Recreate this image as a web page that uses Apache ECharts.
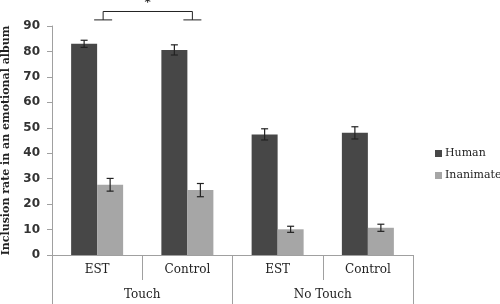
<!DOCTYPE html>
<html>
<head>
<meta charset="utf-8">
<script src="https://cdn.jsdelivr.net/npm/echarts@6/dist/echarts.min.js"></script>
<style>
  html, body { margin: 0; padding: 0; background: #fff; }
  #chart { width: 500px; height: 304px; }
</style>
</head>
<body>
<div id="chart"></div>
<script>
// data
var categories = ['EST', 'Control', 'EST', 'Control'];
var groups = ['Touch', 'No Touch'];
var human = [83, 80.6, 47.4, 48];
var humanErr = [1.4, 2, 2.2, 2.4];
var inanimate = [27.6, 25.5, 10.1, 10.7];
var inanimateErr = [2.5, 2.6, 1.2, 1.4];
var yTicks = [0, 10, 20, 30, 40, 50, 60, 70, 80, 90];

var BAR_W = 26;

function errorBars(values, errs, shift) {
    return {
        type: 'custom',
        xAxisIndex: 0,
        silent: true,
        z: 5,
        data: values.map(function (v, i) { return [i, v, errs[i]]; }),
        renderItem: function (params, api) {
            var i = api.value(0), v = api.value(1), e = api.value(2);
            var hi = api.coord([i, v + e]);
            var lo = api.coord([i, v - e]);
            var x = hi[0] + shift;
            var style = { stroke: '#222', lineWidth: 1.2 };
            return {
                type: 'group',
                children: [
                    { type: 'line', shape: { x1: x, y1: hi[1], x2: x, y2: lo[1] }, style: style },
                    { type: 'line', shape: { x1: x - 3.5, y1: hi[1], x2: x + 3.5, y2: hi[1] }, style: style },
                    { type: 'line', shape: { x1: x - 3.5, y1: lo[1], x2: x + 3.5, y2: lo[1] }, style: style }
                ]
            };
        }
    };
}

var chart = echarts.init(document.getElementById('chart'));

var option = {
    animation: false,
    grid: { left: 52, right: 87, top: 26, bottom: 49, containLabel: false, outerBoundsMode: 'none' },
    legend: {
        orient: 'vertical',
        left: 430,
        top: 143,
        itemWidth: 7,
        itemHeight: 7,
        itemGap: 11,
        icon: 'rect',
        textStyle: { fontFamily: 'DejaVu Serif', fontSize: 11, color: '#222', padding: [0, 0, 0, -2] },
        data: ['Human', 'Inanimate']
    },
    xAxis: [
        {
            type: 'category',
            data: categories,
            position: 'bottom',
            axisLine: { lineStyle: { color: '#a0a0a0', width: 1 } },
            axisTick: { show: true, length: 25, interval: 0, lineStyle: { color: '#a0a0a0' } },
            axisLabel: { interval: 0, margin: 9, fontFamily: 'DejaVu Serif', fontSize: 12, color: '#222' }
        },
        {
            type: 'category',
            data: groups,
            position: 'bottom',
            offset: 25,
            axisLine: { show: false },
            axisTick: { show: true, length: 24, interval: 0, lineStyle: { color: '#a0a0a0' } },
            axisLabel: { interval: 0, margin: 9, fontFamily: 'DejaVu Serif', fontSize: 12, color: '#222' }
        }
    ],
    yAxis: {
        type: 'value',
        min: 0,
        max: 90,
        interval: 10,
        name: 'Inclusion rate in an emotional album',
        nameLocation: 'middle',
        nameGap: 40,
        nameTextStyle: { fontFamily: 'DejaVu Serif', fontWeight: 'bold', fontSize: 11, color: '#222' },
        axisLine: { show: true, lineStyle: { color: '#a0a0a0' } },
        axisTick: { show: true, length: 5, lineStyle: { color: '#a0a0a0' } },
        splitLine: { show: false },
        axisLabel: {
            margin: 12,
            fontFamily: 'DejaVu Sans',
            fontWeight: 'bold',
            fontSize: 12,
            color: '#333',
            formatter: function (v) { return yTicks.indexOf(v) >= 0 ? String(v) : ''; }
        }
    },
    series: [
        {
            name: 'Human',
            type: 'bar',
            xAxisIndex: 0,
            barWidth: BAR_W,
            barGap: '0%',
            itemStyle: { color: '#474747' },
            data: human
        },
        {
            name: 'Inanimate',
            type: 'bar',
            xAxisIndex: 0,
            barWidth: BAR_W,
            barGap: '0%',
            itemStyle: { color: '#a6a6a6' },
            data: inanimate
        },
        errorBars(human, humanErr, -BAR_W / 2),
        errorBars(inanimate, inanimateErr, BAR_W / 2),
        {
            // significance bracket between Touch EST and Touch Control
            type: 'custom',
            xAxisIndex: 0,
            silent: true,
            clip: false,
            data: [[0, 1]],
            renderItem: function (params, api) {
                var a = api.coord([api.value(0), 92.4]);
                var b = api.coord([api.value(1), 92.4]);
                var top = api.coord([0, 95.7])[1];
                var star = api.coord([0, 99])[1];
                var xa = a[0] + 6, xb = b[0] + 5;
                var style = { stroke: '#222', lineWidth: 1 };
                return {
                    type: 'group',
                    children: [
                        { type: 'line', shape: { x1: xa - 9, y1: a[1], x2: xa + 9, y2: a[1] }, style: style },
                        { type: 'line', shape: { x1: xb - 9, y1: b[1], x2: xb + 9, y2: b[1] }, style: style },
                        { type: 'polyline', shape: { points: [[xa, a[1]], [xa, top], [xb, top], [xb, b[1]]] }, style: { stroke: '#222', lineWidth: 1, fill: null } },
                        { type: 'text', x: (xa + xb) / 2, y: star, style: { text: '*', fontFamily: 'DejaVu Sans', fontWeight: 'bold', fontSize: 12, fill: '#222', align: 'center', verticalAlign: 'middle' } }
                    ]
                };
            }
        }
    ]
};

chart.setOption(option);
</script>
</body>
</html>
